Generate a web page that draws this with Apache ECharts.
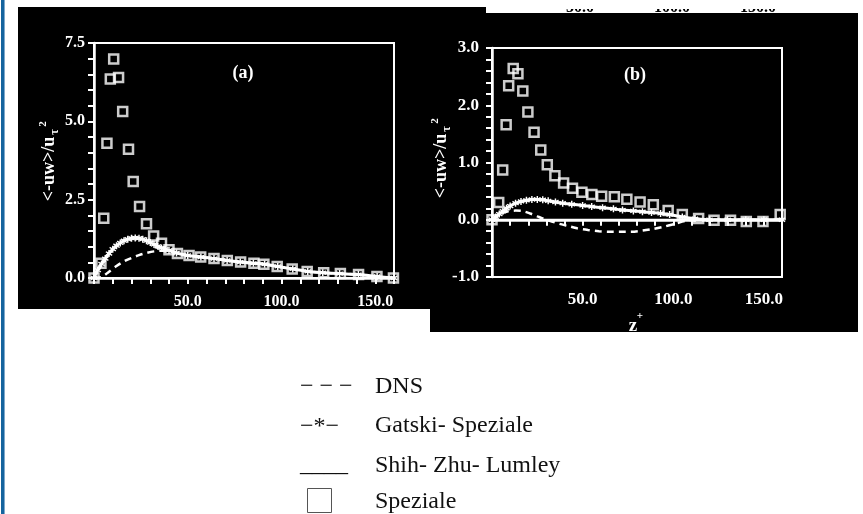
<!DOCTYPE html>
<html>
<head>
<meta charset="utf-8">
<script src="https://cdn.jsdelivr.net/npm/echarts@6/dist/echarts.min.js"></script>
<style>
  html, body { margin: 0; padding: 0; background: #fff; }
  #chart { width: 863px; height: 514px; }
</style>
</head>
<body>
<div id="chart"></div>
<script>
// panel (a)
var aSpezX = [0, 3.7, 5.2, 6.9, 8.7, 10.5, 13.1, 15.3, 18.4, 20.9, 24.3, 28.0, 31.8, 36.0, 40.0, 44.5, 50.7, 56.9, 64.0, 71.1, 78.2, 85.3, 90.6, 97.7, 105.7, 113.7, 122.5, 131.4, 141.1, 150.9, 159.7];
var aSpezY = [0, 0.47, 1.91, 4.30, 6.35, 6.99, 6.40, 5.31, 4.11, 3.08, 2.28, 1.73, 1.34, 1.11, 0.90, 0.78, 0.72, 0.67, 0.62, 0.56, 0.51, 0.47, 0.44, 0.37, 0.29, 0.21, 0.17, 0.14, 0.11, 0.05, 0.0];
var aGatX = [0, 2, 4, 6, 8, 10, 12, 14, 16, 18, 20, 22, 24, 26, 28, 30, 32, 34, 36, 38, 40, 44, 50, 57, 64, 71, 78, 85, 91, 98, 106, 114, 122, 131, 141, 151, 160];
var aGatY = [0, 0.25, 0.45, 0.62, 0.78, 0.92, 1.03, 1.12, 1.19, 1.24, 1.27, 1.28, 1.27, 1.24, 1.19, 1.13, 1.07, 1.01, 0.96, 0.92, 0.88, 0.80, 0.72, 0.67, 0.62, 0.56, 0.51, 0.47, 0.44, 0.37, 0.29, 0.21, 0.17, 0.14, 0.11, 0.05, 0];
var aDnsX = [0, 4, 8, 12, 16, 20, 24, 28, 32, 36, 40, 44, 50, 57, 64, 71, 78, 85, 91, 98, 106, 114, 122, 131, 141, 151, 160];
var aDnsY = [0, 0.03, 0.20, 0.38, 0.53, 0.64, 0.73, 0.80, 0.85, 0.87, 0.86, 0.80, 0.72, 0.67, 0.62, 0.56, 0.51, 0.47, 0.44, 0.37, 0.29, 0.21, 0.17, 0.14, 0.11, 0.05, 0];
var aSzlX = [0, 160];
var aSzlY = [0, 0];

// panel (b)
var bSpezX = [0, 3.7, 5.9, 7.8, 9.2, 11.7, 14.3, 17.0, 19.8, 23.2, 26.9, 30.5, 34.7, 39.5, 44.4, 49.6, 55.1, 60.5, 67.5, 74.4, 81.7, 89.0, 97.2, 105.0, 114.0, 122.5, 131.6, 140.3, 149.5, 159.0];
var bSpezY = [0, 0.30, 0.87, 1.66, 2.34, 2.64, 2.55, 2.25, 1.88, 1.53, 1.22, 0.96, 0.77, 0.64, 0.55, 0.48, 0.44, 0.41, 0.40, 0.36, 0.31, 0.26, 0.16, 0.09, 0.02, -0.01, -0.01, -0.03, -0.03, 0.09];
var bGatX = [0, 2, 4, 6, 8, 10, 13, 16, 19, 22, 25, 28, 31, 35, 39, 44, 50, 55, 61, 67, 72, 78, 83, 88, 93, 98, 105, 112, 120, 130, 140, 150, 160];
var bGatY = [0, 0.05, 0.10, 0.15, 0.20, 0.24, 0.29, 0.32, 0.34, 0.355, 0.355, 0.35, 0.33, 0.31, 0.29, 0.27, 0.25, 0.23, 0.21, 0.19, 0.17, 0.155, 0.14, 0.125, 0.11, 0.09, 0.05, 0.02, 0, 0, 0, 0, 0];
var bDnsX = [0, 3, 6, 9, 13, 17, 21, 25, 29, 33, 37, 42, 47, 53, 59, 65, 71, 77, 83, 89, 95, 101, 107, 113, 120, 130, 140, 150, 160];
var bDnsY = [0, 0.06, 0.12, 0.15, 0.16, 0.15, 0.11, 0.06, 0.01, -0.03, -0.07, -0.11, -0.15, -0.18, -0.20, -0.21, -0.21, -0.21, -0.19, -0.16, -0.12, -0.07, -0.02, 0, 0, 0, 0, 0, 0];
var bSzlX = [0, 160];
var bSzlY = [0, 0];

var xTicks = [50, 100, 150];
var legendNames = ['DNS', 'Gatski- Speziale', 'Shih- Zhu- Lumley', 'Speziale'];

function pairs(xs, ys) {
    return xs.map(function (x, i) { return [x, ys[i]]; });
}

var serif = '"Liberation Serif", "DejaVu Serif", serif';
var starPath = 'path://M4 0h2v3.3l2.8-1.7 1 1.7L7 5l2.8 1.7-1 1.7L6 6.7V10H4V6.7L1.2 8.4l-1-1.7L3 5 .2 3.3l1-1.7L4 3.3z';

function xAxisOf(idx, margin, size) {
    return {
        type: 'value', gridIndex: idx, min: 0, max: 160, interval: 10,
        axisLine: { lineStyle: { color: '#fff', width: 2.5 } },
        axisTick: { length: 6, lineStyle: { color: '#fff', width: 2 } },
        splitLine: { show: false },
        axisLabel: {
            margin: margin, color: '#fff', fontFamily: serif, fontWeight: 'bold', fontSize: size,
            formatter: function (v) { return xTicks.indexOf(v) >= 0 ? v.toFixed(1) : ''; }
        }
    };
}

function yAxisOf(idx, min, max, step, major, margin, size) {
    return {
        type: 'value', gridIndex: idx, min: min, max: max, interval: step,
        axisLine: { lineStyle: { color: '#fff', width: 2.5 } },
        axisTick: { length: 6, lineStyle: { color: '#fff', width: 2 } },
        splitLine: { show: false },
        axisLabel: {
            margin: margin, color: '#fff', fontFamily: serif, fontWeight: 'bold', fontSize: size,
            formatter: function (v) {
                var k = v / major;
                return Math.abs(k - Math.round(k)) < 1e-6 ? (Math.round(k) * major).toFixed(1) : '';
            }
        }
    };
}

function seriesOf(idx, spez, gat, dns, szl) {
    return [
        {
            name: 'Shih-Zhu-Lumley', type: 'line', xAxisIndex: idx, yAxisIndex: idx,
            data: szl, symbol: 'none', lineStyle: { color: '#fff', width: 2 }, z: 3
        },
        {
            name: 'DNS', type: 'line', xAxisIndex: idx, yAxisIndex: idx,
            data: dns, symbol: 'none', smooth: 0.3,
            lineStyle: { color: '#fff', width: 2.5, type: [7, 5] }, z: 4
        },
        {
            name: 'Gatski-Speziale', type: 'line', xAxisIndex: idx, yAxisIndex: idx,
            data: gat, symbol: starPath, symbolSize: 7, showAllSymbol: true, smooth: 0.3,
            itemStyle: { color: '#fff' }, lineStyle: { color: '#fff', width: 3 }, z: 5
        },
        {
            name: 'Speziale', type: 'scatter', xAxisIndex: idx, yAxisIndex: idx,
            data: spez, symbol: 'rect', symbolSize: 9,
            itemStyle: { color: 'rgba(0,0,0,0)', borderColor: '#fff', borderWidth: 2.5 }, z: 6
        }
    ];
}

function yName(cx, cy, size) {
    return {
        type: 'group', x: cx, y: cy, rotation: Math.PI / 2, z: 100,
        children: [
            { type: 'text', x: 0, y: 0, style: { text: '<-uw>/u', fill: '#fff', font: 'bold ' + size + 'px ' + serif, align: 'center', verticalAlign: 'middle', textAlign: 'center', textVerticalAlign: 'middle' } },
            { type: 'text', x: 37, y: 6, style: { text: 'τ', fill: '#fff', font: 'bold 12px ' + serif, align: 'center', verticalAlign: 'middle', textAlign: 'center', textVerticalAlign: 'middle' } },
            { type: 'text', x: 45, y: -6, style: { text: '2', fill: '#fff', font: 'bold 11px ' + serif, align: 'center', verticalAlign: 'middle', textAlign: 'center', textVerticalAlign: 'middle' } }
        ]
    };
}

function txt(x, y, s, font, fill, align, z) {
    return { type: 'text', x: x, y: y, z: z === undefined ? 100 : z,
        style: { text: s, fill: fill, font: font, align: align || 'left', verticalAlign: 'middle', textAlign: align || 'left', textVerticalAlign: 'middle' } };
}

var chart = echarts.init(document.getElementById('chart'));
chart.setOption({
    backgroundColor: '#fff',
    animation: false,
    grid: [
        { left: 94, top: 43, width: 300, height: 235, show: true, borderColor: '#fff', borderWidth: 2, backgroundColor: 'transparent' },
        { left: 492, top: 48, width: 290, height: 229, show: true, borderColor: '#fff', borderWidth: 2, backgroundColor: 'transparent' }
    ],
    xAxis: [xAxisOf(0, 16, 16), xAxisOf(1, 14, 17)],
    yAxis: [
        yAxisOf(0, 0, 7.5, 0.5, 2.5, 9, 16),
        yAxisOf(1, -1, 3, 0.2, 1, 13, 17)
    ],
    series: seriesOf(0, pairs(aSpezX, aSpezY), pairs(aGatX, aGatY), pairs(aDnsX, aDnsY), pairs(aSzlX, aSzlY))
        .concat(seriesOf(1, pairs(bSpezX, bSpezY), pairs(bGatX, bGatY), pairs(bDnsX, bDnsY), pairs(bSzlX, bSzlY))),
    graphic: {
        elements: [
            // cut-off labels of a panel above
            txt(580, 8, '50.0', 'bold 16px ' + serif, '#000', 'center', -12),
            txt(672, 8, '100.0', 'bold 16px ' + serif, '#000', 'center', -12),
            txt(758, 8, '150.0', 'bold 16px ' + serif, '#000', 'center', -12),
            { type: 'rect', z: -11, shape: { x: 486, y: 0, width: 377, height: 9 }, style: { fill: '#fff' } },
            // scanned black background
            { type: 'polygon', z: -10, shape: { points: [[18, 7], [486, 7], [486, 13], [858, 13], [858, 332], [430, 332], [430, 309], [18, 309]] }, style: { fill: '#000' } },
            // blue page edge
            { type: 'rect', z: 100, shape: { x: 1, y: 0, width: 3, height: 514 }, style: { fill: '#15649e' } },
            { type: 'rect', z: 100, shape: { x: 4, y: 0, width: 1, height: 514 }, style: { fill: '#7fa9cc' } },
            yName(49, 169, 18),
            yName(441, 166, 18),
            txt(243, 73, '(a)', 'bold 18px ' + serif, '#fff', 'center'),
            txt(635, 75, '(b)', 'bold 18px ' + serif, '#fff', 'center'),
            txt(633, 326, 'z', 'bold 19px ' + serif, '#fff', 'center'),
            txt(640, 316, '+', 'bold 11px ' + serif, '#fff', 'center'),
            // legend
            txt(300, 387, '− − −', '24px ' + serif, '#111'),
            txt(375, 387, legendNames[0], '24px ' + serif, '#111'),
            txt(300, 427, '−*−', '24px ' + serif, '#111'),
            txt(375, 426, legendNames[1], '24px ' + serif, '#111'),
            txt(300, 465, '____', '24px ' + serif, '#111'),
            txt(375, 466, legendNames[2], '24px ' + serif, '#111'),
            { type: 'rect', z: 100, shape: { x: 307.5, y: 488.5, width: 24, height: 24 }, style: { fill: 'none', stroke: '#555', lineWidth: 1 } },
            txt(375, 502, legendNames[3], '24px ' + serif, '#111')
        ]
    }
});
</script>
</body>
</html>
